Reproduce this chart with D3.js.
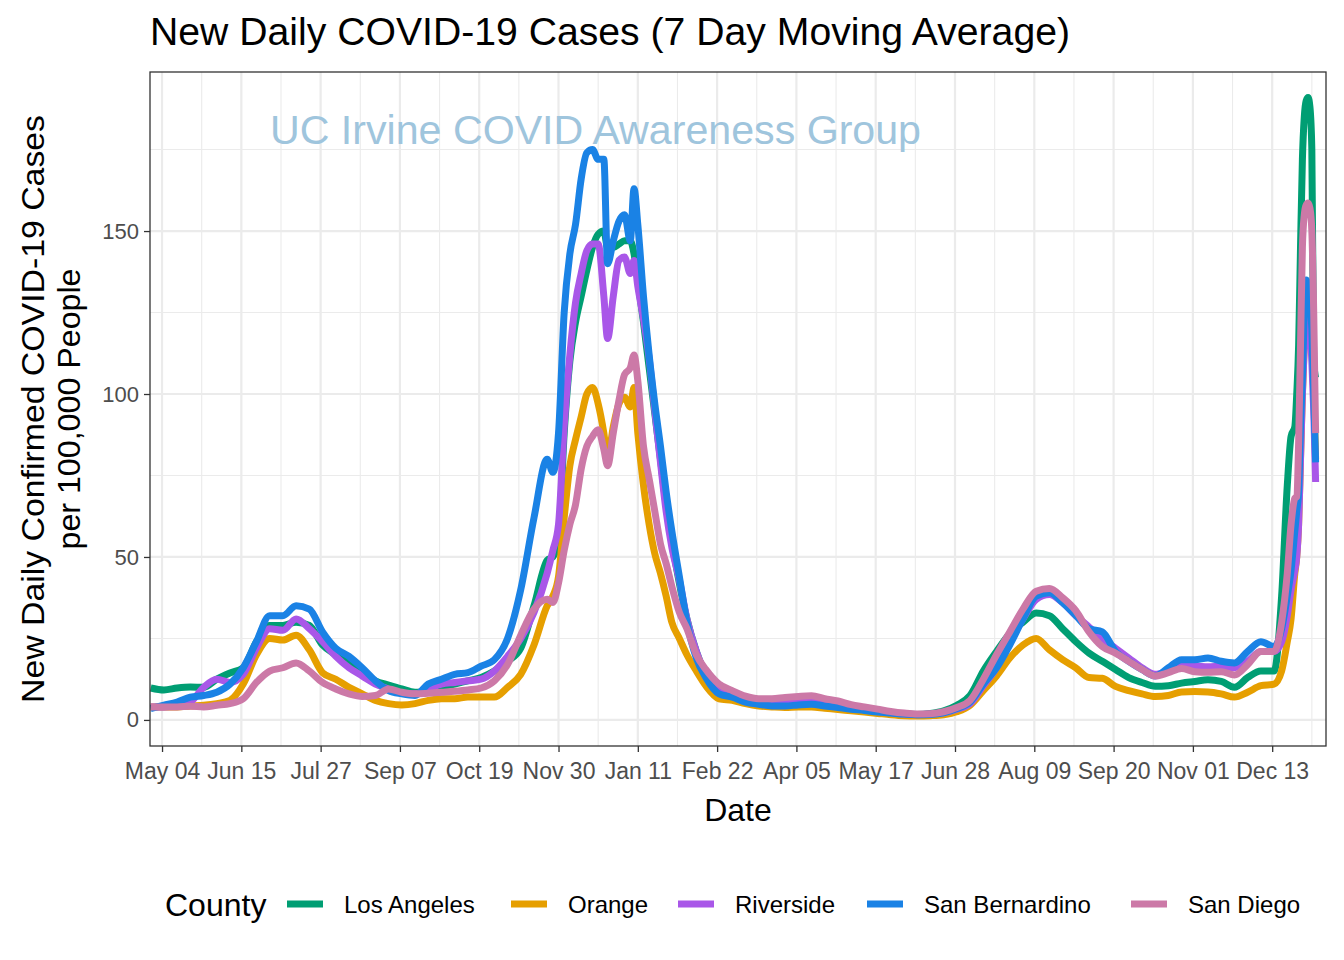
<!DOCTYPE html>
<html><head><meta charset="utf-8">
<script src="https://cdn.jsdelivr.net/npm/d3@7"></script>
<style>
body{margin:0;background:#fff}
text{font-family:"Liberation Sans",Arial,sans-serif}
</style>
</head><body>
<svg id="chart" width="1344" height="960"></svg>
<script>
// ---------------- DATA ----------------
const dates = [
"2020-04-28","2020-05-05","2020-05-12","2020-05-19","2020-05-26","2020-06-02","2020-06-09","2020-06-16","2020-06-23","2020-06-30",
"2020-07-07","2020-07-14","2020-07-21","2020-07-28","2020-08-04","2020-08-11","2020-08-18","2020-08-25","2020-09-01","2020-09-08",
"2020-09-15","2020-09-22","2020-09-29","2020-10-06","2020-10-13","2020-10-20","2020-10-27","2020-11-03","2020-11-10","2020-11-17",
"2020-11-24",
"2020-11-27","2020-11-30","2020-12-03","2020-12-06","2020-12-09","2020-12-12","2020-12-15","2020-12-18","2020-12-21","2020-12-24",
"2020-12-26","2020-12-29","2021-01-01","2021-01-04","2021-01-07","2021-01-09","2021-01-11","2021-01-14","2021-01-17","2021-01-20",
"2021-01-23","2021-01-26","2021-01-29","2021-02-02","2021-02-06","2021-02-11","2021-02-16","2021-02-23",
"2021-03-02","2021-03-09","2021-03-16","2021-03-23","2021-03-30","2021-04-06","2021-04-13","2021-04-20","2021-04-27","2021-05-04",
"2021-05-11","2021-05-18","2021-05-25","2021-06-01","2021-06-08","2021-06-15","2021-06-22","2021-06-29","2021-07-06","2021-07-13",
"2021-07-20","2021-07-27","2021-08-03","2021-08-10","2021-08-17","2021-08-24","2021-08-31","2021-09-07","2021-09-14","2021-09-21",
"2021-09-28","2021-10-05","2021-10-12","2021-10-19","2021-10-26","2021-11-02","2021-11-09","2021-11-16","2021-11-23","2021-11-30",
"2021-12-07","2021-12-14",
"2021-12-18","2021-12-21","2021-12-23","2021-12-25","2021-12-26","2021-12-27","2021-12-28","2021-12-29","2021-12-30","2021-12-31",
"2022-01-01","2022-01-02","2022-01-03","2022-01-04","2022-01-05"
];

const losAngeles = [
9.8,9.2,9.8,10.1,10,12.5,14.4,16,24,29,
29,30,29,23,20,17.5,14.5,12,10.7,9.5,
8.5,9,10,11,12,13,15,18,22,35,49,
50,55,88,110,122,130,138,145,149,150,
145,145,146,147,147,143,135,122,108,94,
80,66,55,42,31,21,14,9,
8,6.5,5.5,5,5,5,5,4.5,4,3.5,
3,2.5,2.1,1.8,1.7,2,2.8,4.5,7.5,15,
21,26.5,30,32.8,32,28,24,20.5,18,15.5,
13,11.5,10.3,10.5,11.3,11.8,12.3,11.8,10,13,
15,15,
38,72,87,90,100,115,145,172,185,190,
191,188,175,110,105
];

const orange = [
4,4,4,4.3,4.5,5,6,11,20,25,
24.5,26,21.5,14.5,12.5,10,8,6,5,4.6,
5,6,6.5,6.5,7,7,7,10,14,23,35,
38,44,62,78,86,93,100,102,97,88,
80,90,97,99,96,102,88,72,60,51,
45,38,30,25,20,15,10.5,6.5,
6,5,4.3,4,3.8,4,4,3.6,3.2,2.8,
2.4,2,1.6,1.3,1.2,1.3,1.6,2.5,4.5,9,
13.5,19,23,25,21.5,18.5,16,13,12.8,10.3,
9,8,7.2,7.5,8.6,8.7,8.6,8,7,8.5,
10.5,11,
15,24,31,45,50,60,80,100,115,125,
128,125,115,100,80
];

const riverside = [
4,4,4.5,5.5,10,12.5,11.5,14,22,28,
27.5,31,28,24,19.5,16,13.5,11,9.5,8.2,
8,9.5,11,11.5,12,12.5,15,19.5,25,33,45,
52,60,90,112,128,137,144,146,146,130,
117,130,141,142,137,141,133,123,111,95,
79,64,53,43,31,21,14,9,
8,6.5,5.5,5,5,5.5,5.5,5,4.3,3.8,
3.2,2.6,2.2,1.8,1.6,1.8,2.2,3.3,5,10.5,
16,24,31,37,38.5,36,32,28.5,25,22,
19,16,14,15,16.5,16.5,16.3,16.5,16,18,
21,21,
24,32,40,46,50,60,80,100,115,125,
125,120,110,95,73
];

const sanBernardino = [
3.5,4.5,5.5,7,7.5,8.5,11,16,24,32,
32,35,34,27,22,19.5,16,12,9,8,
7.5,11,12.5,14,14.5,16.5,18.5,25,40,62,80,
76,88,125,143,152,166,174,175,172,172,
140,147,153,155,147,163,152,130,112,97,
84,70,58,44,30,19,13,8,
7,5.5,4.8,4.3,4.3,4.6,4.8,4.3,3.8,3.3,
2.9,2.4,2.1,1.8,1.6,1.7,2.2,3.5,5.5,11,
16,23,31,38,39,36,32,28,27,21,
18,15.5,13.5,16,18.5,18.5,19,18,17.5,21,
24,22.5,
28,38,46,58,64,70,90,105,125,135,
133,128,120,100,79
];

const sanDiego = [
4,4,4,4.2,4,4.5,5,6.5,11.5,15,
16,17.5,15,11.5,9.5,8,7.2,7.5,9.5,8.5,
8,8.2,8.5,8.8,9.2,9.8,12,17,26,34,37,
36,42,52,60,66,77,84,87,89,83,
78,88,98,106,108,112,104,84,74,64,
54,48,41,33,28,20,15.5,11,
9,7.3,6.5,6.5,6.9,7.2,7.4,6.5,5.8,4.7,
4,3.3,2.6,2.1,1.8,1.9,2.5,3.8,6,12.5,
20,27,34,39.5,40.3,37.5,33.5,27,22.5,20.5,
18,15.5,13.5,14.5,15.8,14.8,14.6,14.8,13.8,17,
21,21,
30,45,60,68,68.5,85,115,145,155,158,
158.6,157,150,125,88
];

const counties = ["Los Angeles","Orange","Riverside","San Bernardino","San Diego"];
const countyColors = ["#009E73","#E69F00","#A957E8","#1A82E5","#CC79A7"];
const seriesValues = [losAngeles, orange, riverside, sanBernardino, sanDiego];

const xTickDates = ["2020-05-04","2020-06-15","2020-07-27","2020-09-07","2020-10-19","2020-11-30","2021-01-11",
  "2021-02-22","2021-04-05","2021-05-17","2021-06-28","2021-08-09","2021-09-20","2021-11-01","2021-12-13"];
const xMinorDates = ["2020-05-25","2020-07-06","2020-08-17","2020-09-28","2020-11-09","2020-12-21","2021-02-01",
  "2021-03-15","2021-04-26","2021-06-07","2021-07-19","2021-08-30","2021-10-11","2021-11-22","2022-01-03"];
const yTicks = [0,50,100,150];
const yMinor = [25,75,125,175];
const xDomain = ["2020-04-27T15:00","2022-01-10T12:00"];
const yDomain = [-8, 198.8];

const titleText = "New Daily COVID-19 Cases (7 Day Moving Average)";
const watermarkText = "UC Irvine COVID Awareness Group";
const yTitleLines = ["New Daily Confirmed COVID-19 Cases","per 100,000 People"];
const xTitleText = "Date";
const legendTitle = "County";

// ---------------- CHART ----------------
const svg = d3.select("#chart");
const P = {left:150, right:1326, top:72, bottom:746};
const parse = d3.utcParse("%Y-%m-%d");
const parseT = d3.utcParse("%Y-%m-%dT%H:%M");

const x = d3.scaleUtc().domain(xDomain.map(parseT)).range([P.left, P.right]);
const y = d3.scaleLinear().domain(yDomain).range([P.bottom, P.top]);

svg.append("rect").attr("width",1344).attr("height",960).attr("fill","#fff");

// panel grid
const g = svg.append("g");
g.selectAll(".xminor").data(xMinorDates.map(parse)).join("line")
  .attr("x1",d=>x(d)).attr("x2",d=>x(d)).attr("y1",P.top).attr("y2",P.bottom)
  .attr("stroke","#EBEBEB").attr("stroke-width",1.1);
g.selectAll(".yminor").data(yMinor).join("line")
  .attr("x1",P.left).attr("x2",P.right).attr("y1",d=>y(d)).attr("y2",d=>y(d))
  .attr("stroke","#EBEBEB").attr("stroke-width",1.1);
g.selectAll(".xmajor").data(xTickDates.map(parse)).join("line")
  .attr("x1",d=>x(d)).attr("x2",d=>x(d)).attr("y1",P.top).attr("y2",P.bottom)
  .attr("stroke","#EBEBEB").attr("stroke-width",2.2);
g.selectAll(".ymajor").data(yTicks).join("line")
  .attr("x1",P.left).attr("x2",P.right).attr("y1",d=>y(d)).attr("y2",d=>y(d))
  .attr("stroke","#EBEBEB").attr("stroke-width",2.2);

// watermark
svg.append("text").attr("x",270).attr("y",144).attr("font-size",41)
  .attr("fill","#9FC5DD").attr("textLength",651).attr("lengthAdjust","spacingAndGlyphs")
  .text(watermarkText);

// lines
svg.append("clipPath").attr("id","pclip").append("rect")
  .attr("x",P.left).attr("y",P.top).attr("width",P.right-P.left).attr("height",P.bottom-P.top);
const parsedDates = dates.map(parse);
const line = d3.line().x((d,i)=>x(parsedDates[i])).y(d=>y(d)).curve(d3.curveMonotoneX);
const lg = svg.append("g").attr("clip-path","url(#pclip)");
seriesValues.forEach((vals,k)=>{
  lg.append("path").attr("d",line(vals)).attr("fill","none")
    .attr("stroke",countyColors[k]).attr("stroke-width",7)
    .attr("stroke-linejoin","round").attr("stroke-linecap","butt");
});

// panel border
svg.append("rect").attr("x",P.left).attr("y",P.top).attr("width",P.right-P.left).attr("height",P.bottom-P.top)
  .attr("fill","none").attr("stroke","#333333").attr("stroke-width",1.3);

// axes
const xAxis = d3.axisBottom(x).tickValues(xTickDates.map(parse)).tickFormat(d3.utcFormat("%b %d"))
  .tickSize(6).tickPadding(5);
const xa = svg.append("g").attr("transform",`translate(0,${P.bottom})`).call(xAxis);
xa.select(".domain").remove();
xa.selectAll(".tick line").attr("stroke","#333333").attr("stroke-width",1.3);
xa.selectAll(".tick text").attr("font-size",23).attr("fill","#4D4D4D")
  .attr("font-family","'Liberation Sans',Arial,sans-serif").attr("dy","0.95em");

const yAxis = d3.axisLeft(y).tickValues(yTicks).tickSize(6).tickPadding(5);
const ya = svg.append("g").attr("transform",`translate(${P.left},0)`).call(yAxis);
ya.select(".domain").remove();
ya.selectAll(".tick line").attr("stroke","#333333").attr("stroke-width",1.3);
ya.selectAll(".tick text").attr("font-size",22).attr("fill","#4D4D4D")
  .attr("font-family","'Liberation Sans',Arial,sans-serif");

// titles
svg.append("text").attr("x",150).attr("y",45).attr("font-size",38).attr("fill","#000")
  .attr("textLength",920).attr("lengthAdjust","spacingAndGlyphs").text(titleText);

svg.append("text").attr("x",738).attr("y",821).attr("font-size",32).attr("text-anchor","middle")
  .attr("fill","#000").text(xTitleText);

const yt = svg.append("g").attr("transform","translate(0,409) rotate(-90)");
yt.append("text").attr("x",0).attr("y",44).attr("font-size",32).attr("text-anchor","middle")
  .attr("textLength",588).attr("lengthAdjust","spacingAndGlyphs").text(yTitleLines[0]);
yt.append("text").attr("x",0).attr("y",80).attr("font-size",32).attr("text-anchor","middle")
  .attr("textLength",281).attr("lengthAdjust","spacingAndGlyphs").text(yTitleLines[1]);

// legend
const leg = svg.append("g");
leg.append("text").attr("x",165).attr("y",916).attr("font-size",32).text(legendTitle);
const keyX = [287,511,678,867,1131];
counties.forEach((c,k)=>{
  leg.append("line").attr("x1",keyX[k]).attr("x2",keyX[k]+36).attr("y1",904).attr("y2",904)
    .attr("stroke",countyColors[k]).attr("stroke-width",7);
  leg.append("text").attr("x",keyX[k]+57).attr("y",913).attr("font-size",24).attr("fill","#000").text(c);
});
</script>
</body></html>
